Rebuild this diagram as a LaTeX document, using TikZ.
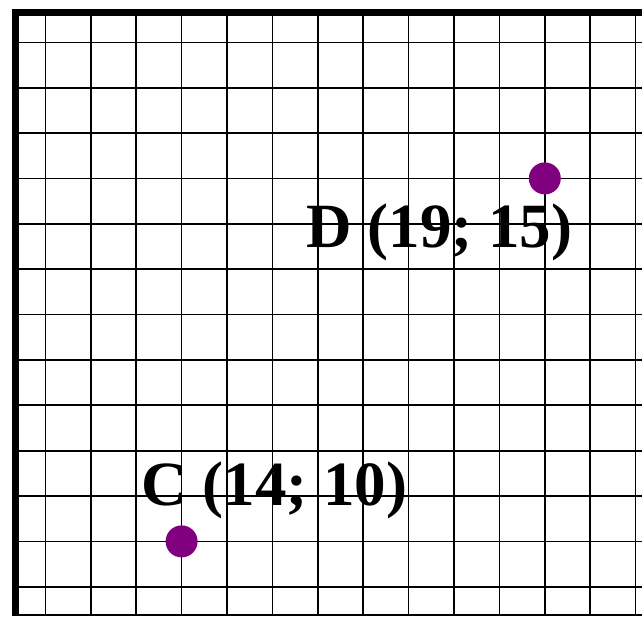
\documentclass[tikz,border=0pt]{standalone}
\usepackage{fontspec}
\setmainfont{Liberation Serif}
\usetikzlibrary{positioning}
\definecolor{Ink}{HTML}{000000}
\definecolor{Grape}{HTML}{800080}

\tikzset{
  gridline/.style={Ink,line width=1.7pt},
  pointdot/.style={circle,fill=Grape,minimum size=32pt,inner sep=0pt},
  pointlabel/.style={text=Ink,font=\fontsize{63}{70}\selectfont\bfseries,inner sep=0pt,anchor=base west}
}

\begin{document}
\begin{tikzpicture}[x=1pt,y=1pt]
\useasboundingbox (0,0) rectangle (642,616);
\fill[white] (0,0) rectangle (642,616);
% grid
\foreach \k in {1,...,14}
  \draw[gridline] (45.4*\k,0) -- (45.4*\k,603.7);
\foreach \k in {0,...,12}
  \draw[gridline] (15.3,29.2+45.37*\k) -- (642,29.2+45.37*\k);
\draw[gridline] (15.3,1.2) -- (642,1.2);
% axes frame
\draw[Ink,line width=7pt] (15.3,0) -- (15.3,603.7) -- (642,603.7);
% points
\node[pointdot] (dotD) at (544.8,437.6) {};
\node[pointdot] (dotC) at (181.6,74.6) {};
\node[pointlabel] (labelD) at (306.2,368) {D (19; 15)};
\node[pointlabel] (labelC) at (141.2,111) {C (14; 10)};
\end{tikzpicture}
\end{document}
